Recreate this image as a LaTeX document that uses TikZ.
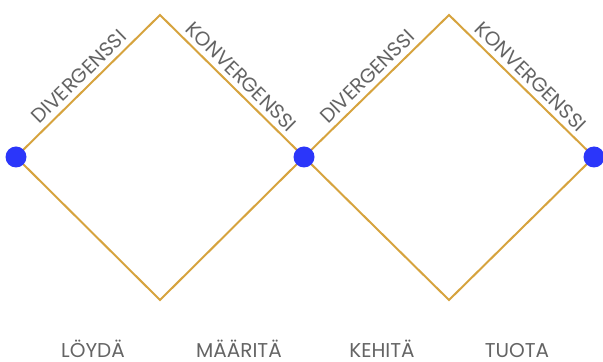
\documentclass[tikz,border=0pt]{standalone}
\usepackage{fontspec}
\setmainfont{Poppins}
\usetikzlibrary{positioning}
\definecolor{diamondgold}{RGB}{214,163,62}
\definecolor{dotblue}{RGB}{43,54,250}
\definecolor{labelgray}{RGB}{100,100,100}

\begin{document}
\begin{tikzpicture}[
  x=0.5pt, y=-0.5pt,
  phase/.style={draw=diamondgold, line width=1pt, line join=miter},
  dot/.style={circle, fill=dotblue, inner sep=0pt, minimum size=10.5pt},
  slopelabel/.style={sloped, above, inner sep=2.5pt, text=labelgray,
                     font=\fontsize{10}{11}\selectfont},
  stage/.style={anchor=base, text=labelgray, font=\fontsize{10}{11}\selectfont}
]
\useasboundingbox (0,0) rectangle (603,362);

% Corner points of the two diamonds
\coordinate (left1) at (16,157);
\coordinate (top1) at (160,15);
\coordinate (mid) at (304,157);
\coordinate (bot1) at (160,300);
\coordinate (top2) at (449,15);
\coordinate (right2) at (594,157);
\coordinate (bot2) at (449,300);

% Diamond 1
\draw[phase] (left1) -- node[slopelabel]{DIVERGENSSI} (top1)
  -- node[slopelabel]{KONVERGENSSI} (mid) -- (bot1) -- cycle;

% Diamond 2
\draw[phase] (mid) -- node[slopelabel]{DIVERGENSSI} (top2)
  -- node[slopelabel]{KONVERGENSSI} (right2) -- (bot2) -- cycle;

% Dots
\node[dot] (dot1) at (left1) {};
\node[dot] (dot2) at (mid) {};
\node[dot] (dot3) at (right2) {};

% Stages
\node[stage] (find) at (93,357) {LÖYDÄ};
\node[stage] (define) at (239,357) {MÄÄRITÄ};
\node[stage] (develop) at (382,357) {KEHITÄ};
\node[stage] (deliver) at (517,357) {TUOTA};
\end{tikzpicture}
\end{document}
